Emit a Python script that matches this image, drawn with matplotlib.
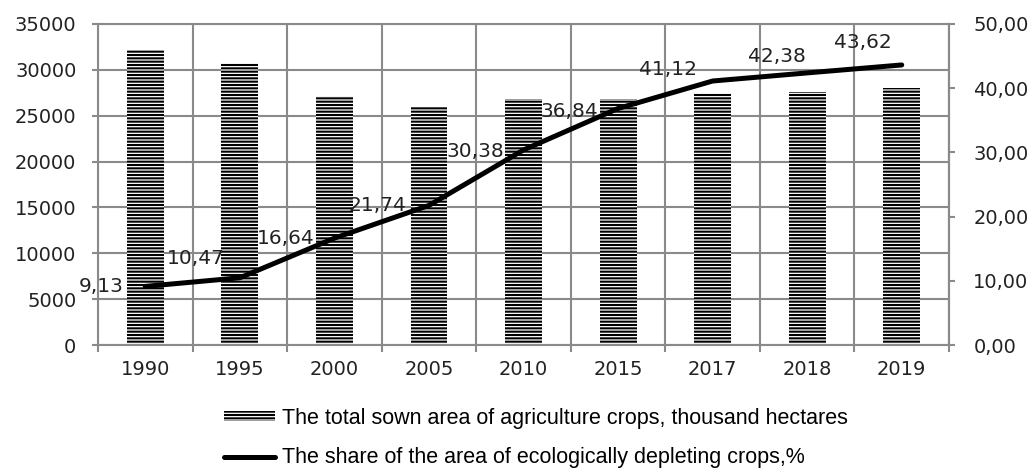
import matplotlib
matplotlib.use('Agg')
import matplotlib.pyplot as plt
import numpy as np

# data
years = ['1990', '1995', '2000', '2005', '2010', '2015', '2017', '2018', '2019']
sown_area = [32200, 30800, 27150, 25950, 26800, 26800, 27450, 27600, 28000]
share = [9.13, 10.47, 16.64, 21.74, 30.38, 36.84, 41.12, 42.38, 43.62]
share_labels = ['9,13', '10,47', '16,64', '21,74', '30,38', '36,84', '41,12', '42,38', '43,62']

# label offsets in points (style only)
label_offsets = [(-32, 0), (-32, 14), (-35, 0), (-37, 0), (-35, -1),
                 (-35, -2), (-32, 8), (-22, 11.5), (-28, 16)]

plt.rcParams['hatch.linewidth'] = 1.5
grid_c = '#8a8a8a'
tick_font = 'DejaVu Sans'
legend_font = 'Liberation Sans'

fig = plt.figure(figsize=(10.34, 4.76), dpi=100)
ax = fig.add_axes([0.0948, 0.2752, 0.8230, 0.6744])
x = np.arange(len(years))

bars = ax.bar(x, sown_area, width=0.39, color='white', edgecolor='black',
              linewidth=0, hatch='-----', zorder=2,
              label='The total sown area of agriculture crops, thousand hectares')

ax.set_xlim(-0.5, len(years) - 0.5)
ax.set_ylim(0, 35000)
ax.set_yticks(np.arange(0, 35001, 5000))
ax.set_xticks(x)
ax.set_xticklabels(years)
ax.set_xticks(np.arange(-0.5, len(years)), minor=True)

ax.grid(True, axis='y', color=grid_c, linewidth=1.5, zorder=0)
ax.grid(True, axis='x', which='minor', color=grid_c, linewidth=1.5, zorder=0)
ax.set_axisbelow(True)
for s in ax.spines.values():
    s.set_color(grid_c)
    s.set_linewidth(1.5)

ax.tick_params(axis='x', which='major', length=0, pad=11, labelsize=14, labelcolor='#222222')
ax.tick_params(axis='x', which='minor', length=5, width=1.5, color=grid_c)
ax.tick_params(axis='y', length=4.5, width=1.5, color=grid_c, pad=11, labelsize=14,
               labelcolor='#222222')
for t in ax.get_xticklabels() + ax.get_yticklabels():
    t.set_family(tick_font)

ax2 = ax.twinx()
ax2.set_ylim(0, 50)
ax2.set_yticks(np.arange(0, 51, 10))
ax2.set_yticklabels(['%d,00' % v for v in range(0, 51, 10)])
line, = ax2.plot(x, share, color='black', linewidth=3.6, solid_capstyle='round',
                 zorder=3, label='The share of the area of ecologically depleting crops,%')
for s in ax2.spines.values():
    s.set_visible(False)
ax2.spines['right'].set_visible(True)
ax2.spines['right'].set_color(grid_c)
ax2.spines['right'].set_linewidth(1.5)
ax2.tick_params(axis='y', length=4.5, width=1.5, color=grid_c, pad=13, labelsize=14,
                labelcolor='#222222')
for t in ax2.get_yticklabels():
    t.set_family(tick_font)

for xi, yi, txt, off in zip(x, share, share_labels, label_offsets):
    ax2.annotate(txt, (xi, yi), xytext=off, textcoords='offset points',
                 ha='center', va='center', fontsize=14.5, family=tick_font,
                 color='#222222', zorder=4)

fig.legend(handles=[bars, line], loc='center', bbox_to_anchor=(0.518, 0.080),
           frameon=False, prop={'family': legend_font, 'size': 15.5},
           handlelength=2.4, handleheight=0.3, handletextpad=0.3, labelspacing=0.85,
           borderpad=0)

fig.savefig('out.png', dpi=100)
